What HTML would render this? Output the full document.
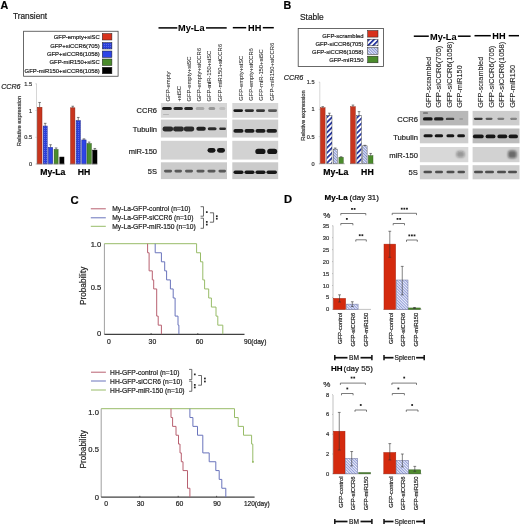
<!DOCTYPE html>
<html><head><meta charset="utf-8"><title>Figure</title>
<style>
html,body{margin:0;padding:0;background:#fff;width:520px;height:527px;overflow:hidden;}
svg{display:block;filter:blur(0.3px);font-family:"Liberation Sans", sans-serif;}
text{font-family:"Liberation Sans", sans-serif;}
</style></head>
<body><svg width="520" height="527" viewBox="0 0 520 527">
<rect width="520" height="527" fill="#fff"/>
<defs>
<pattern id="dots" width="2" height="2" patternUnits="userSpaceOnUse"><rect width="2" height="2" fill="#2a3fd8"/><rect x="0" y="0" width="1" height="1" fill="#5a6ae8"/></pattern>
<pattern id="hatchB" width="3.6" height="3.6" patternUnits="userSpaceOnUse" patternTransform="rotate(45)"><rect width="3.6" height="3.6" fill="#ffffff"/><rect width="1.7" height="3.6" fill="#1f2f9c"/></pattern>
<pattern id="hatchL" width="2" height="2" patternUnits="userSpaceOnUse" patternTransform="rotate(-45)"><rect width="2" height="2" fill="#e6e9f8"/><rect width="0.8" height="2" fill="#6f80c8"/></pattern>
<pattern id="hatchD" width="2.0" height="2.0" patternUnits="userSpaceOnUse" patternTransform="rotate(-45)"><rect width="2.0" height="2.0" fill="#eef0fb"/><rect width="0.75" height="2.0" fill="#7080cc"/></pattern>
<filter id="b1" x="-50%" y="-100%" width="200%" height="300%"><feGaussianBlur stdDeviation="0.6"/></filter>
<filter id="b3" x="-60%" y="-60%" width="220%" height="220%"><feGaussianBlur stdDeviation="1.1"/></filter>
<filter id="b2" x="-50%" y="-100%" width="200%" height="300%"><feGaussianBlur stdDeviation="0.75"/></filter>
</defs>
<text x="0.5" y="9" font-size="10.7" text-anchor="start" font-weight="bold" fill="#000" stroke="#000" stroke-width="0.2">A</text>
<text x="12.9" y="19.0" font-size="8.3" text-anchor="start" fill="#222" stroke="#222" stroke-width="0.2">Transient</text>
<rect x="23.60" y="31.25" width="94.50" height="45.00" fill="none" stroke="#444" stroke-width="0.8"/>
<text x="99.75" y="36.75" font-size="5.9" text-anchor="end" fill="#222" stroke="#222" stroke-width="0.2" dominant-baseline="central">GFP-empty+siSC</text>
<rect x="102.25" y="33.50" width="9.65" height="6.50" fill="#d8321c" stroke="#222" stroke-width="0.5"/>
<text x="99.75" y="45.75" font-size="5.9" text-anchor="end" fill="#222" stroke="#222" stroke-width="0.2" dominant-baseline="central">GFP+siCCR6(705)</text>
<rect x="102.25" y="42.50" width="9.65" height="6.50" fill="url(#dots)" stroke="#222" stroke-width="0.5"/>
<text x="99.75" y="54.25" font-size="5.9" text-anchor="end" fill="#222" stroke="#222" stroke-width="0.2" dominant-baseline="central">GFP+siCCR6(1058)</text>
<rect x="102.25" y="51.00" width="9.65" height="6.50" fill="#2e44e6" stroke="#222" stroke-width="0.5"/>
<text x="99.75" y="62.25" font-size="5.9" text-anchor="end" fill="#222" stroke="#222" stroke-width="0.2" dominant-baseline="central">GFP-miR150+siSC</text>
<rect x="102.25" y="59.00" width="9.65" height="6.50" fill="#4b8c2c" stroke="#222" stroke-width="0.5"/>
<text x="99.75" y="70.5" font-size="5.9" text-anchor="end" fill="#222" stroke="#222" stroke-width="0.2" dominant-baseline="central">GFP-miR150+siCCR6(1058)</text>
<rect x="102.25" y="67.25" width="9.65" height="6.50" fill="#000" stroke="#222" stroke-width="0.5"/>
<text x="1.2" y="89.0" font-size="7.1" text-anchor="start" font-style="italic" fill="#222" stroke="#222" stroke-width="0.2">CCR6</text>
<line x1="36.50" y1="83.75" x2="36.50" y2="164.00" stroke="#bbb" stroke-width="0.6"/>
<text x="32" y="83.75" font-size="5.6" text-anchor="end" fill="#333" stroke="#333" stroke-width="0.2" dominant-baseline="central">1.5</text>
<line x1="35.50" y1="83.75" x2="36.50" y2="83.75" stroke="#999" stroke-width="0.5"/>
<text x="32" y="110.5" font-size="5.6" text-anchor="end" fill="#333" stroke="#333" stroke-width="0.2" dominant-baseline="central">1</text>
<line x1="35.50" y1="110.50" x2="36.50" y2="110.50" stroke="#999" stroke-width="0.5"/>
<text x="32" y="137.25" font-size="5.6" text-anchor="end" fill="#333" stroke="#333" stroke-width="0.2" dominant-baseline="central">0.5</text>
<line x1="35.50" y1="137.25" x2="36.50" y2="137.25" stroke="#999" stroke-width="0.5"/>
<text x="32" y="164.0" font-size="5.6" text-anchor="end" fill="#333" stroke="#333" stroke-width="0.2" dominant-baseline="central">0</text>
<line x1="35.50" y1="164.00" x2="36.50" y2="164.00" stroke="#999" stroke-width="0.5"/>
<text x="18.8" y="121" font-size="5.8" text-anchor="middle" fill="#333" stroke="#333" stroke-width="0.2" transform="rotate(-90 18.8 121)" dominant-baseline="central">Relative expression</text>
<rect x="37.30" y="107.29" width="4.70" height="56.71" fill="#c8351e" stroke="#8a2010" stroke-width="0.5"/>
<line x1="39.65" y1="107.29" x2="39.65" y2="102.47" stroke="#333" stroke-width="0.6"/>
<line x1="38.35" y1="102.47" x2="40.95" y2="102.47" stroke="#333" stroke-width="0.6"/>
<rect x="43.20" y="126.02" width="4.00" height="37.98" fill="url(#dots)" stroke="#1a2590" stroke-width="0.5"/>
<line x1="45.20" y1="126.02" x2="45.20" y2="123.34" stroke="#333" stroke-width="0.6"/>
<line x1="43.90" y1="123.34" x2="46.50" y2="123.34" stroke="#333" stroke-width="0.6"/>
<rect x="48.40" y="147.41" width="4.30" height="16.59" fill="#2e44e6" stroke="#1a2590" stroke-width="0.5"/>
<line x1="50.55" y1="147.41" x2="50.55" y2="144.74" stroke="#333" stroke-width="0.6"/>
<line x1="49.25" y1="144.74" x2="51.85" y2="144.74" stroke="#333" stroke-width="0.6"/>
<rect x="54.10" y="149.56" width="4.00" height="14.44" fill="#4b8c2c" stroke="#2a5518" stroke-width="0.5"/>
<line x1="56.10" y1="149.56" x2="56.10" y2="147.95" stroke="#333" stroke-width="0.6"/>
<line x1="54.80" y1="147.95" x2="57.40" y2="147.95" stroke="#333" stroke-width="0.6"/>
<rect x="59.80" y="157.04" width="4.20" height="6.96" fill="#000" stroke="#000" stroke-width="0.5"/>
<rect x="70.60" y="107.82" width="4.30" height="56.18" fill="#c8351e" stroke="#8a2010" stroke-width="0.5"/>
<line x1="72.75" y1="107.82" x2="72.75" y2="106.22" stroke="#333" stroke-width="0.6"/>
<line x1="71.45" y1="106.22" x2="74.05" y2="106.22" stroke="#333" stroke-width="0.6"/>
<rect x="76.10" y="120.66" width="4.30" height="43.34" fill="url(#dots)" stroke="#1a2590" stroke-width="0.5"/>
<line x1="78.25" y1="120.66" x2="78.25" y2="117.45" stroke="#333" stroke-width="0.6"/>
<line x1="76.95" y1="117.45" x2="79.55" y2="117.45" stroke="#333" stroke-width="0.6"/>
<rect x="81.80" y="139.93" width="4.30" height="24.07" fill="#2e44e6" stroke="#1a2590" stroke-width="0.5"/>
<line x1="83.95" y1="139.93" x2="83.95" y2="138.85" stroke="#333" stroke-width="0.6"/>
<line x1="82.65" y1="138.85" x2="85.25" y2="138.85" stroke="#333" stroke-width="0.6"/>
<rect x="87.00" y="143.67" width="4.30" height="20.33" fill="#4b8c2c" stroke="#2a5518" stroke-width="0.5"/>
<line x1="89.15" y1="143.67" x2="89.15" y2="142.06" stroke="#333" stroke-width="0.6"/>
<line x1="87.85" y1="142.06" x2="90.45" y2="142.06" stroke="#333" stroke-width="0.6"/>
<rect x="92.70" y="150.09" width="4.30" height="13.91" fill="#000" stroke="#000" stroke-width="0.5"/>
<line x1="94.85" y1="150.09" x2="94.85" y2="148.48" stroke="#333" stroke-width="0.6"/>
<line x1="93.55" y1="148.48" x2="96.15" y2="148.48" stroke="#333" stroke-width="0.6"/>
<line x1="36.00" y1="164.00" x2="65.00" y2="164.00" stroke="#999" stroke-width="0.6"/>
<line x1="69.70" y1="164.00" x2="97.40" y2="164.00" stroke="#999" stroke-width="0.6"/>
<text x="52.8" y="174.6" font-size="8.7" text-anchor="middle" font-weight="bold" fill="#000" stroke="#000" stroke-width="0.2">My-La</text>
<text x="84" y="174.6" font-size="8.7" text-anchor="middle" font-weight="bold" fill="#000" stroke="#000" stroke-width="0.2">HH</text>
<line x1="158.50" y1="27.90" x2="177.30" y2="27.90" stroke="#000" stroke-width="1.5"/>
<line x1="206.00" y1="27.90" x2="226.70" y2="27.90" stroke="#000" stroke-width="1.5"/>
<text x="191.3" y="31.2" font-size="9.2" text-anchor="middle" font-weight="bold" fill="#000" stroke="#000" stroke-width="0.05">My-La</text>
<line x1="232.80" y1="27.70" x2="246.20" y2="27.70" stroke="#000" stroke-width="1.5"/>
<line x1="262.80" y1="27.70" x2="273.80" y2="27.70" stroke="#000" stroke-width="1.5"/>
<text x="254.7" y="31.0" font-size="9.2" text-anchor="middle" font-weight="bold" fill="#000" stroke="#000" stroke-width="0.05">HH</text>
<text x="170.29999999999998" y="101.5" font-size="6.1" text-anchor="start" fill="#222" stroke="#222" stroke-width="0.05" transform="rotate(-90 170.29999999999998 101.5)" textLength="30" lengthAdjust="spacingAndGlyphs">GFP-empty</text>
<text x="180.6" y="101.5" font-size="6.1" text-anchor="start" fill="#222" stroke="#222" stroke-width="0.05" transform="rotate(-90 180.6 101.5)" textLength="15.5" lengthAdjust="spacingAndGlyphs">+siSC</text>
<text x="190.6" y="101.5" font-size="6.1" text-anchor="start" fill="#222" stroke="#222" stroke-width="0.05" transform="rotate(-90 190.6 101.5)" textLength="45" lengthAdjust="spacingAndGlyphs">GFP-empty+siSC</text>
<text x="201.29999999999998" y="101.5" font-size="6.1" text-anchor="start" fill="#222" stroke="#222" stroke-width="0.05" transform="rotate(-90 201.29999999999998 101.5)" textLength="53.6" lengthAdjust="spacingAndGlyphs">GFP-empty+siCCR6</text>
<text x="211.29999999999998" y="101.5" font-size="6.1" text-anchor="start" fill="#222" stroke="#222" stroke-width="0.05" transform="rotate(-90 211.29999999999998 101.5)" textLength="50.7" lengthAdjust="spacingAndGlyphs">GFP-miR-150+siSC</text>
<text x="222.1" y="101.5" font-size="6.1" text-anchor="start" fill="#222" stroke="#222" stroke-width="0.05" transform="rotate(-90 222.1 101.5)" textLength="57.5" lengthAdjust="spacingAndGlyphs">GFP-miR150+siCCR6</text>
<text x="242.6" y="100.8" font-size="6.1" text-anchor="start" fill="#222" stroke="#222" stroke-width="0.05" transform="rotate(-90 242.6 100.8)" textLength="45" lengthAdjust="spacingAndGlyphs">GFP-empty+siSC</text>
<text x="253.29999999999998" y="100.8" font-size="6.1" text-anchor="start" fill="#222" stroke="#222" stroke-width="0.05" transform="rotate(-90 253.29999999999998 100.8)" textLength="52.6" lengthAdjust="spacingAndGlyphs">GFP-empty+siCCR6</text>
<text x="263.1" y="100.8" font-size="6.1" text-anchor="start" fill="#222" stroke="#222" stroke-width="0.05" transform="rotate(-90 263.1 100.8)" textLength="51.6" lengthAdjust="spacingAndGlyphs">GFP-miR-150+siSC</text>
<text x="274.1" y="100.8" font-size="6.1" text-anchor="start" fill="#222" stroke="#222" stroke-width="0.05" transform="rotate(-90 274.1 100.8)" textLength="58.2" lengthAdjust="spacingAndGlyphs">GFP-miR150+siCCR6</text>
<rect x="160.90" y="103.00" width="66.10" height="14.80" fill="#d7d7d7"/>
<rect x="232.30" y="103.00" width="45.90" height="14.80" fill="#d7d7d7"/>
<rect x="160.90" y="119.60" width="66.10" height="17.90" fill="#cecece"/>
<rect x="232.30" y="119.60" width="45.90" height="17.90" fill="#cecece"/>
<rect x="160.90" y="140.80" width="66.10" height="18.80" fill="#d2d2d2"/>
<rect x="232.30" y="140.80" width="45.90" height="18.80" fill="#d2d2d2"/>
<rect x="160.90" y="162.30" width="66.10" height="16.80" fill="#cbcbcb"/>
<rect x="232.30" y="162.30" width="45.90" height="16.80" fill="#cbcbcb"/>
<rect x="162.00" y="107.00" width="9.80" height="3.00" rx="1.50" fill="#111" fill-opacity="0.92" filter="url(#b1)"/>
<rect x="173.50" y="107.00" width="9.40" height="3.00" rx="1.50" fill="#111" fill-opacity="0.88" filter="url(#b1)"/>
<rect x="184.20" y="107.00" width="8.80" height="3.00" rx="1.50" fill="#111" fill-opacity="0.88" filter="url(#b1)"/>
<rect x="195.70" y="107.00" width="8.70" height="3.00" rx="1.50" fill="#111" fill-opacity="0.22" filter="url(#b1)"/>
<rect x="208.50" y="107.00" width="6.70" height="3.00" rx="1.50" fill="#111" fill-opacity="0.3" filter="url(#b1)"/>
<rect x="219.20" y="107.00" width="6.10" height="3.00" rx="1.50" fill="#111" fill-opacity="0.12" filter="url(#b1)"/>
<rect x="163.00" y="114.00" width="6.00" height="1.00" rx="0.50" fill="#111" fill-opacity="0.15" filter="url(#b1)"/>
<rect x="233.40" y="109.30" width="9.60" height="2.60" rx="1.30" fill="#111" fill-opacity="0.95" filter="url(#b1)"/>
<rect x="244.80" y="109.30" width="9.10" height="2.60" rx="1.30" fill="#111" fill-opacity="0.85" filter="url(#b1)"/>
<rect x="256.00" y="109.30" width="9.00" height="2.60" rx="1.30" fill="#111" fill-opacity="0.8" filter="url(#b1)"/>
<rect x="268.00" y="109.30" width="9.00" height="2.60" rx="1.30" fill="#111" fill-opacity="0.65" filter="url(#b1)"/>
<rect x="162.50" y="126.60" width="10.70" height="4.80" rx="2.40" fill="#111" fill-opacity="0.85" filter="url(#b1)"/>
<rect x="173.00" y="126.60" width="10.90" height="4.80" rx="2.40" fill="#111" fill-opacity="0.85" filter="url(#b1)"/>
<rect x="183.70" y="126.60" width="10.60" height="4.80" rx="2.40" fill="#111" fill-opacity="0.85" filter="url(#b1)"/>
<rect x="196.30" y="126.80" width="9.50" height="4.00" rx="2.00" fill="#111" fill-opacity="0.9" filter="url(#b1)"/>
<rect x="207.80" y="127.30" width="8.70" height="3.00" rx="1.50" fill="#111" fill-opacity="0.85" filter="url(#b1)"/>
<rect x="219.20" y="127.60" width="6.80" height="2.40" rx="1.20" fill="#111" fill-opacity="0.85" filter="url(#b1)"/>
<rect x="233.40" y="129.10" width="10.10" height="3.60" rx="1.80" fill="#111" fill-opacity="0.92" filter="url(#b1)"/>
<rect x="244.50" y="129.10" width="10.00" height="3.60" rx="1.80" fill="#111" fill-opacity="0.92" filter="url(#b1)"/>
<rect x="255.50" y="129.10" width="10.00" height="3.60" rx="1.80" fill="#111" fill-opacity="0.92" filter="url(#b1)"/>
<rect x="266.50" y="129.10" width="10.50" height="3.60" rx="1.80" fill="#111" fill-opacity="0.92" filter="url(#b1)"/>
<rect x="207.50" y="147.90" width="8.00" height="4.80" rx="2.40" fill="#111" fill-opacity="0.95" filter="url(#b2)"/>
<rect x="217.00" y="147.90" width="8.00" height="4.80" rx="2.40" fill="#111" fill-opacity="0.95" filter="url(#b2)"/>
<rect x="255.30" y="148.70" width="10.20" height="5.40" rx="2.70" fill="#111" fill-opacity="0.95" filter="url(#b2)"/>
<rect x="267.20" y="148.70" width="10.00" height="5.40" rx="2.70" fill="#111" fill-opacity="0.95" filter="url(#b2)"/>
<rect x="164.00" y="169.80" width="8.10" height="2.60" rx="1.30" fill="#111" fill-opacity="0.62" filter="url(#b1)"/>
<rect x="174.50" y="169.80" width="7.50" height="2.60" rx="1.30" fill="#111" fill-opacity="0.62" filter="url(#b1)"/>
<rect x="185.00" y="169.80" width="8.00" height="2.60" rx="1.30" fill="#111" fill-opacity="0.62" filter="url(#b1)"/>
<rect x="196.50" y="169.80" width="8.00" height="2.60" rx="1.30" fill="#111" fill-opacity="0.62" filter="url(#b1)"/>
<rect x="207.50" y="169.80" width="8.00" height="2.60" rx="1.30" fill="#111" fill-opacity="0.62" filter="url(#b1)"/>
<rect x="218.50" y="169.80" width="7.50" height="2.60" rx="1.30" fill="#111" fill-opacity="0.62" filter="url(#b1)"/>
<rect x="233.50" y="170.40" width="10.00" height="3.60" rx="1.80" fill="#111" fill-opacity="0.95" filter="url(#b1)"/>
<rect x="244.50" y="170.40" width="10.00" height="3.60" rx="1.80" fill="#111" fill-opacity="0.95" filter="url(#b1)"/>
<rect x="255.50" y="170.40" width="10.00" height="3.60" rx="1.80" fill="#111" fill-opacity="0.95" filter="url(#b1)"/>
<rect x="266.50" y="170.40" width="10.50" height="3.60" rx="1.80" fill="#111" fill-opacity="0.95" filter="url(#b1)"/>
<text x="157" y="110.6" font-size="7.5" text-anchor="end" fill="#222" stroke="#222" stroke-width="0.2" dominant-baseline="central">CCR6</text>
<text x="157" y="129.8" font-size="7.5" text-anchor="end" fill="#222" stroke="#222" stroke-width="0.2" dominant-baseline="central">Tubulin</text>
<text x="157" y="151.6" font-size="7.5" text-anchor="end" fill="#222" stroke="#222" stroke-width="0.2" dominant-baseline="central">miR-150</text>
<text x="157" y="171" font-size="7.5" text-anchor="end" fill="#222" stroke="#222" stroke-width="0.2" dominant-baseline="central">5S</text>
<text x="283.5" y="9" font-size="10.7" text-anchor="start" font-weight="bold" fill="#000" stroke="#000" stroke-width="0.2">B</text>
<text x="300" y="19.7" font-size="8.4" text-anchor="start" fill="#222" stroke="#222" stroke-width="0.2">Stable</text>
<rect x="298.20" y="28.50" width="85.30" height="38.00" fill="none" stroke="#444" stroke-width="0.8"/>
<text x="363.5" y="35.6" font-size="5.9" text-anchor="end" fill="#222" stroke="#222" stroke-width="0.2" dominant-baseline="central">GFP-scrambled</text>
<rect x="367.70" y="30.50" width="10.30" height="6.60" fill="#d8321c" stroke="#222" stroke-width="0.5"/>
<text x="363.5" y="43.6" font-size="5.9" text-anchor="end" fill="#222" stroke="#222" stroke-width="0.2" dominant-baseline="central">GFP-siCCR6(705)</text>
<rect x="367.70" y="39.20" width="10.30" height="6.60" fill="url(#hatchB)" stroke="#222" stroke-width="0.5"/>
<text x="363.5" y="52.1" font-size="5.9" text-anchor="end" fill="#222" stroke="#222" stroke-width="0.2" dominant-baseline="central">GFP-siCCR6(1058)</text>
<rect x="367.70" y="47.70" width="10.30" height="6.60" fill="url(#hatchL)" stroke="#222" stroke-width="0.5"/>
<text x="363.5" y="59.8" font-size="5.9" text-anchor="end" fill="#222" stroke="#222" stroke-width="0.2" dominant-baseline="central">GFP-miR150</text>
<rect x="367.70" y="56.20" width="10.30" height="6.60" fill="#4b8c2c" stroke="#222" stroke-width="0.5"/>
<text x="283.8" y="80.0" font-size="7.2" text-anchor="start" font-style="italic" fill="#222" stroke="#222" stroke-width="0.2">CCR6</text>
<line x1="319.80" y1="82.20" x2="319.80" y2="163.80" stroke="#bbb" stroke-width="0.6"/>
<text x="314.5" y="82.20000000000002" font-size="5.6" text-anchor="end" fill="#333" stroke="#333" stroke-width="0.2" dominant-baseline="central">1.5</text>
<line x1="318.80" y1="82.20" x2="319.80" y2="82.20" stroke="#999" stroke-width="0.5"/>
<text x="314.5" y="109.4" font-size="5.6" text-anchor="end" fill="#333" stroke="#333" stroke-width="0.2" dominant-baseline="central">1</text>
<line x1="318.80" y1="109.40" x2="319.80" y2="109.40" stroke="#999" stroke-width="0.5"/>
<text x="314.5" y="136.60000000000002" font-size="5.6" text-anchor="end" fill="#333" stroke="#333" stroke-width="0.2" dominant-baseline="central">0.5</text>
<line x1="318.80" y1="136.60" x2="319.80" y2="136.60" stroke="#999" stroke-width="0.5"/>
<text x="314.5" y="163.8" font-size="5.6" text-anchor="end" fill="#333" stroke="#333" stroke-width="0.2" dominant-baseline="central">0</text>
<line x1="318.80" y1="163.80" x2="319.80" y2="163.80" stroke="#999" stroke-width="0.5"/>
<text x="302.5" y="115.5" font-size="5.8" text-anchor="middle" fill="#333" stroke="#333" stroke-width="0.2" transform="rotate(-90 302.5 115.5)" dominant-baseline="central">Relative expression</text>
<rect x="320.40" y="107.77" width="4.70" height="56.03" fill="#c8351e" stroke="#8a2010" stroke-width="0.4"/>
<line x1="322.75" y1="107.77" x2="322.75" y2="106.68" stroke="#333" stroke-width="0.6"/>
<line x1="321.45" y1="106.68" x2="324.05" y2="106.68" stroke="#333" stroke-width="0.6"/>
<rect x="326.80" y="115.38" width="5.20" height="48.42" fill="url(#hatchB)" stroke="#333" stroke-width="0.4"/>
<line x1="329.40" y1="115.38" x2="329.40" y2="113.21" stroke="#333" stroke-width="0.6"/>
<line x1="328.10" y1="113.21" x2="330.70" y2="113.21" stroke="#333" stroke-width="0.6"/>
<rect x="333.20" y="149.11" width="4.00" height="14.69" fill="url(#hatchL)" stroke="#333" stroke-width="0.4"/>
<line x1="335.20" y1="149.11" x2="335.20" y2="148.02" stroke="#333" stroke-width="0.6"/>
<line x1="333.90" y1="148.02" x2="336.50" y2="148.02" stroke="#333" stroke-width="0.6"/>
<rect x="338.90" y="157.27" width="4.40" height="6.53" fill="#4b8c2c" stroke="#2a5518" stroke-width="0.4"/>
<line x1="341.10" y1="157.27" x2="341.10" y2="156.73" stroke="#333" stroke-width="0.6"/>
<line x1="339.80" y1="156.73" x2="342.40" y2="156.73" stroke="#333" stroke-width="0.6"/>
<rect x="350.50" y="106.68" width="4.90" height="57.12" fill="#c8351e" stroke="#8a2010" stroke-width="0.4"/>
<line x1="352.95" y1="106.68" x2="352.95" y2="105.05" stroke="#333" stroke-width="0.6"/>
<line x1="351.65" y1="105.05" x2="354.25" y2="105.05" stroke="#333" stroke-width="0.6"/>
<rect x="356.70" y="115.38" width="4.70" height="48.42" fill="url(#hatchB)" stroke="#333" stroke-width="0.4"/>
<line x1="359.05" y1="115.38" x2="359.05" y2="111.58" stroke="#333" stroke-width="0.6"/>
<line x1="357.75" y1="111.58" x2="360.35" y2="111.58" stroke="#333" stroke-width="0.6"/>
<rect x="362.60" y="145.85" width="4.50" height="17.95" fill="url(#hatchL)" stroke="#333" stroke-width="0.4"/>
<line x1="364.85" y1="145.85" x2="364.85" y2="145.30" stroke="#333" stroke-width="0.6"/>
<line x1="363.55" y1="145.30" x2="366.15" y2="145.30" stroke="#333" stroke-width="0.6"/>
<rect x="368.30" y="155.64" width="4.70" height="8.16" fill="#4b8c2c" stroke="#2a5518" stroke-width="0.4"/>
<line x1="370.65" y1="155.64" x2="370.65" y2="153.46" stroke="#333" stroke-width="0.6"/>
<line x1="369.35" y1="153.46" x2="371.95" y2="153.46" stroke="#333" stroke-width="0.6"/>
<line x1="319.00" y1="163.80" x2="345.00" y2="163.80" stroke="#999" stroke-width="0.6"/>
<line x1="350.00" y1="163.80" x2="374.40" y2="163.80" stroke="#999" stroke-width="0.6"/>
<text x="335.9" y="175.3" font-size="8.7" text-anchor="middle" font-weight="bold" fill="#000" stroke="#000" stroke-width="0.2">My-La</text>
<text x="367.4" y="175.3" font-size="8.7" text-anchor="middle" font-weight="bold" fill="#000" stroke="#000" stroke-width="0.2">HH</text>
<line x1="413.80" y1="36.20" x2="428.80" y2="36.20" stroke="#000" stroke-width="1.5"/>
<line x1="457.90" y1="36.20" x2="470.60" y2="36.20" stroke="#000" stroke-width="1.5"/>
<text x="443.3" y="39.5" font-size="9.2" text-anchor="middle" font-weight="bold" fill="#000" stroke="#000" stroke-width="0.05">My-La</text>
<line x1="474.50" y1="35.70" x2="490.80" y2="35.70" stroke="#000" stroke-width="1.5"/>
<line x1="508.70" y1="35.70" x2="519.00" y2="35.70" stroke="#000" stroke-width="1.5"/>
<text x="498.9" y="39.0" font-size="9.2" text-anchor="middle" font-weight="bold" fill="#000" stroke="#000" stroke-width="0.05">HH</text>
<text x="431.0" y="107.7" font-size="7.9" text-anchor="start" fill="#222" stroke="#222" stroke-width="0.1" transform="rotate(-90 431.0 107.7)" textLength="50.9" lengthAdjust="spacingAndGlyphs">GFP-scrambled</text>
<text x="441.4" y="107.7" font-size="7.9" text-anchor="start" fill="#222" stroke="#222" stroke-width="0.1" transform="rotate(-90 441.4 107.7)" textLength="62.1" lengthAdjust="spacingAndGlyphs">GFP-siCCR6(705)</text>
<text x="451.7" y="107.7" font-size="7.9" text-anchor="start" fill="#222" stroke="#222" stroke-width="0.1" transform="rotate(-90 451.7 107.7)" textLength="66.3" lengthAdjust="spacingAndGlyphs">GFP-siCCR6(1058)</text>
<text x="462.2" y="107.7" font-size="7.9" text-anchor="start" fill="#222" stroke="#222" stroke-width="0.1" transform="rotate(-90 462.2 107.7)" textLength="42.4" lengthAdjust="spacingAndGlyphs">GFP-miR150</text>
<text x="482.7" y="107.7" font-size="7.9" text-anchor="start" fill="#222" stroke="#222" stroke-width="0.1" transform="rotate(-90 482.7 107.7)" textLength="50.9" lengthAdjust="spacingAndGlyphs">GFP-scrambled</text>
<text x="493.79999999999995" y="107.7" font-size="7.9" text-anchor="start" fill="#222" stroke="#222" stroke-width="0.1" transform="rotate(-90 493.79999999999995 107.7)" textLength="62.1" lengthAdjust="spacingAndGlyphs">GFP-siCCR6(705)</text>
<text x="504.0" y="107.7" font-size="7.9" text-anchor="start" fill="#222" stroke="#222" stroke-width="0.1" transform="rotate(-90 504.0 107.7)" textLength="66.0" lengthAdjust="spacingAndGlyphs">GFP-siCCR6(1058)</text>
<text x="514.7" y="107.7" font-size="7.9" text-anchor="start" fill="#222" stroke="#222" stroke-width="0.1" transform="rotate(-90 514.7 107.7)" textLength="42.8" lengthAdjust="spacingAndGlyphs">GFP-miR150</text>
<rect x="419.90" y="110.90" width="48.40" height="14.50" fill="#b8b8b8"/>
<rect x="472.60" y="110.90" width="46.90" height="14.50" fill="#cdcdcd"/>
<rect x="419.90" y="128.50" width="48.40" height="14.80" fill="#cdcdcd"/>
<rect x="472.60" y="128.50" width="46.90" height="14.80" fill="#bcbcbc"/>
<rect x="419.90" y="147.00" width="48.40" height="15.20" fill="#d8d8d8"/>
<rect x="472.60" y="147.00" width="46.90" height="15.20" fill="#d2d2d2"/>
<rect x="419.90" y="165.20" width="48.40" height="14.10" fill="#cdcdcd"/>
<rect x="472.60" y="165.20" width="46.90" height="14.10" fill="#cdcdcd"/>
<rect x="422.90" y="117.20" width="9.80" height="3.40" rx="1.70" fill="#111" fill-opacity="0.95" filter="url(#b1)"/>
<rect x="434.00" y="117.30" width="9.50" height="3.20" rx="1.60" fill="#111" fill-opacity="0.9" filter="url(#b1)"/>
<rect x="445.80" y="117.70" width="8.50" height="2.40" rx="1.20" fill="#111" fill-opacity="0.7" filter="url(#b1)"/>
<rect x="459.20" y="117.90" width="3.90" height="2.00" rx="1.00" fill="#111" fill-opacity="0.15" filter="url(#b1)"/>
<rect x="423.00" y="112.40" width="5.00" height="1.20" rx="0.60" fill="#111" fill-opacity="0.6" filter="url(#b1)"/>
<rect x="473.90" y="117.70" width="8.80" height="2.20" rx="1.10" fill="#111" fill-opacity="0.78" filter="url(#b1)"/>
<rect x="485.60" y="117.70" width="6.90" height="2.20" rx="1.10" fill="#111" fill-opacity="0.62" filter="url(#b1)"/>
<rect x="497.40" y="117.70" width="6.90" height="2.20" rx="1.10" fill="#111" fill-opacity="0.45" filter="url(#b1)"/>
<rect x="510.20" y="117.70" width="6.80" height="2.20" rx="1.10" fill="#111" fill-opacity="0.4" filter="url(#b1)"/>
<rect x="423.50" y="134.30" width="9.20" height="3.00" rx="1.50" fill="#111" fill-opacity="0.95" filter="url(#b1)"/>
<rect x="434.70" y="134.30" width="8.40" height="3.00" rx="1.50" fill="#111" fill-opacity="0.95" filter="url(#b1)"/>
<rect x="446.40" y="134.30" width="7.90" height="3.00" rx="1.50" fill="#111" fill-opacity="0.95" filter="url(#b1)"/>
<rect x="457.20" y="134.30" width="7.80" height="3.00" rx="1.50" fill="#111" fill-opacity="0.95" filter="url(#b1)"/>
<rect x="472.90" y="134.50" width="10.80" height="3.80" rx="1.90" fill="#111" fill-opacity="0.95" filter="url(#b1)"/>
<rect x="485.60" y="134.50" width="9.90" height="3.80" rx="1.90" fill="#111" fill-opacity="0.95" filter="url(#b1)"/>
<rect x="497.40" y="134.50" width="9.80" height="3.80" rx="1.90" fill="#111" fill-opacity="0.95" filter="url(#b1)"/>
<rect x="508.60" y="134.50" width="9.40" height="3.80" rx="1.90" fill="#111" fill-opacity="0.95" filter="url(#b1)"/>
<rect x="456.4" y="151.0" width="8.2" height="6.6" rx="2.5" fill="#111" fill-opacity="0.34" filter="url(#b3)"/>
<rect x="508.0" y="150.6" width="8.6" height="7.6" rx="2.5" fill="#111" fill-opacity="0.55" filter="url(#b3)"/>
<rect x="423.50" y="170.70" width="8.50" height="2.60" rx="1.30" fill="#111" fill-opacity="0.68" filter="url(#b1)"/>
<rect x="435.00" y="170.70" width="8.00" height="2.60" rx="1.30" fill="#111" fill-opacity="0.68" filter="url(#b1)"/>
<rect x="446.50" y="170.70" width="8.00" height="2.60" rx="1.30" fill="#111" fill-opacity="0.68" filter="url(#b1)"/>
<rect x="457.50" y="170.70" width="7.50" height="2.60" rx="1.30" fill="#111" fill-opacity="0.68" filter="url(#b1)"/>
<rect x="474.00" y="170.70" width="9.00" height="2.60" rx="1.30" fill="#111" fill-opacity="0.68" filter="url(#b1)"/>
<rect x="485.00" y="170.70" width="9.00" height="2.60" rx="1.30" fill="#111" fill-opacity="0.68" filter="url(#b1)"/>
<rect x="497.00" y="170.70" width="9.00" height="2.60" rx="1.30" fill="#111" fill-opacity="0.68" filter="url(#b1)"/>
<rect x="508.00" y="170.70" width="9.00" height="2.60" rx="1.30" fill="#111" fill-opacity="0.68" filter="url(#b1)"/>
<text x="417.9" y="119.7" font-size="7.6" text-anchor="end" fill="#222" stroke="#222" stroke-width="0.2" dominant-baseline="central">CCR6</text>
<text x="417.9" y="137" font-size="7.6" text-anchor="end" fill="#222" stroke="#222" stroke-width="0.2" dominant-baseline="central">Tubulin</text>
<text x="417.9" y="155" font-size="7.6" text-anchor="end" fill="#222" stroke="#222" stroke-width="0.2" dominant-baseline="central">miR-150</text>
<text x="417.9" y="172.3" font-size="7.6" text-anchor="end" fill="#222" stroke="#222" stroke-width="0.2" dominant-baseline="central">5S</text>
<text x="70.6" y="203.6" font-size="11.3" text-anchor="start" font-weight="bold" fill="#000" stroke="#000" stroke-width="0.2">C</text>
<line x1="90.80" y1="208.80" x2="105.80" y2="208.80" stroke="#b86070" stroke-width="1.0"/>
<text x="112.3" y="208.8" font-size="6.7" text-anchor="start" fill="#222" stroke="#222" stroke-width="0.2" dominant-baseline="central">My-La-GFP-control (n=10)</text>
<line x1="90.80" y1="217.80" x2="105.80" y2="217.80" stroke="#6a74bc" stroke-width="1.0"/>
<text x="112.3" y="217.8" font-size="6.7" text-anchor="start" fill="#222" stroke="#222" stroke-width="0.2" dominant-baseline="central">My-La-GFP-siCCR6 (n=10)</text>
<line x1="90.80" y1="226.30" x2="105.80" y2="226.30" stroke="#98bc68" stroke-width="1.0"/>
<text x="112.3" y="226.3" font-size="6.7" text-anchor="start" fill="#222" stroke="#222" stroke-width="0.2" dominant-baseline="central">My-La-GFP-miR-150 (n=10)</text>
<path d="M200.60,206.70 H203.50 V216.20 H200.60" stroke="#444" stroke-width="0.8" fill="none"/>
<path d="M200.60,218.20 H203.50 V228.30 H200.60" stroke="#444" stroke-width="0.8" fill="none"/>
<path d="M209.90,212.80 H213.60 V222.20 H209.90" stroke="#444" stroke-width="0.8" fill="none"/>
<rect x="205.95" y="211.25" width="1.70" height="1.70" fill="#222"/>
<rect x="205.95" y="221.05" width="1.70" height="1.70" fill="#222"/>
<rect x="205.95" y="223.75" width="1.70" height="1.70" fill="#222"/>
<rect x="215.95" y="215.35" width="1.70" height="1.70" fill="#222"/>
<rect x="215.95" y="217.85" width="1.70" height="1.70" fill="#222"/>
<line x1="104.40" y1="243.70" x2="104.40" y2="334.20" stroke="#777" stroke-width="0.7"/>
<line x1="104.40" y1="334.30" x2="244.50" y2="334.30" stroke="#111" stroke-width="1.0"/>
<line x1="151.10" y1="334.30" x2="151.10" y2="333.00" stroke="#111" stroke-width="0.6"/>
<line x1="197.80" y1="334.30" x2="197.80" y2="333.00" stroke="#111" stroke-width="0.6"/>
<text x="101.2" y="244.6" font-size="7.6" text-anchor="end" fill="#222" stroke="#222" stroke-width="0.2" dominant-baseline="central">1.0</text>
<text x="101.2" y="287.2" font-size="7.6" text-anchor="end" fill="#222" stroke="#222" stroke-width="0.2" dominant-baseline="central">0.5</text>
<text x="101.2" y="333.0" font-size="7.6" text-anchor="end" fill="#222" stroke="#222" stroke-width="0.2" dominant-baseline="central">0</text>
<text x="83.2" y="285.8" font-size="8.2" text-anchor="middle" fill="#222" stroke="#222" stroke-width="0.2" transform="rotate(-90 83.2 285.8)" dominant-baseline="central">Probability</text>
<text x="108.8" y="341.6" font-size="6.8" text-anchor="middle" fill="#222" stroke="#222" stroke-width="0.2" dominant-baseline="central">0</text>
<text x="152.4" y="341.6" font-size="6.8" text-anchor="middle" fill="#222" stroke="#222" stroke-width="0.2" dominant-baseline="central">30</text>
<text x="199.6" y="341.6" font-size="6.8" text-anchor="middle" fill="#222" stroke="#222" stroke-width="0.2" dominant-baseline="central">60</text>
<text x="244" y="341.6" font-size="6.6" text-anchor="start" fill="#222" stroke="#222" stroke-width="0.2" dominant-baseline="central">90(day)</text>
<path d="M104.40,243.70 L196.60,243.70 L196.60,252.75 L200.50,252.75 L200.50,261.80 L202.80,261.80 L202.80,279.90 L204.60,279.90 L204.60,288.95 L208.70,288.95 L208.70,298.00 L211.40,298.00 L211.40,307.05 L216.00,307.05 L216.00,316.10 L217.80,316.10 L217.80,325.15 L222.80,325.15 L222.80,334.20" stroke="#98bc68" stroke-width="1.0" fill="none"/>
<path d="M147.60,243.70 L147.60,243.70 L147.60,252.75 L149.10,252.75 L149.10,270.85 L152.30,270.85 L152.30,279.90 L153.70,279.90 L153.70,288.95 L156.70,288.95 L156.70,316.10 L158.20,316.10 L158.20,325.15 L161.40,325.15 L161.40,334.20" stroke="#b86070" stroke-width="1.0" fill="none"/>
<path d="M155.20,243.70 L155.20,243.70 L155.20,252.75 L161.40,252.75 L161.40,261.80 L164.70,261.80 L164.70,270.85 L166.60,270.85 L166.60,279.90 L170.40,279.90 L170.40,288.95 L173.20,288.95 L173.20,298.00 L175.10,298.00 L175.10,316.10 L178.00,316.10 L178.00,325.15 L178.90,325.15 L178.90,334.20" stroke="#6a74bc" stroke-width="1.0" fill="none"/>
<line x1="91.00" y1="372.20" x2="105.90" y2="372.20" stroke="#b86070" stroke-width="1.0"/>
<text x="110.1" y="372.2" font-size="6.7" text-anchor="start" fill="#222" stroke="#222" stroke-width="0.2" dominant-baseline="central">HH-GFP-control (n=10)</text>
<line x1="91.00" y1="381.00" x2="105.90" y2="381.00" stroke="#6a74bc" stroke-width="1.0"/>
<text x="110.1" y="381.0" font-size="6.7" text-anchor="start" fill="#222" stroke="#222" stroke-width="0.2" dominant-baseline="central">HH-GFP-siCCR6 (n=10)</text>
<line x1="91.00" y1="390.00" x2="105.90" y2="390.00" stroke="#98bc68" stroke-width="1.0"/>
<text x="110.1" y="390.0" font-size="6.7" text-anchor="start" fill="#222" stroke="#222" stroke-width="0.2" dominant-baseline="central">HH-GFP-miR-150 (n=10)</text>
<path d="M189.10,369.40 H191.80 V379.60 H189.10" stroke="#444" stroke-width="0.8" fill="none"/>
<path d="M189.10,381.20 H191.80 V391.30 H189.10" stroke="#444" stroke-width="0.8" fill="none"/>
<path d="M198.20,375.50 H201.50 V385.20 H198.20" stroke="#444" stroke-width="0.8" fill="none"/>
<rect x="193.95" y="373.55" width="1.70" height="1.70" fill="#222"/>
<rect x="193.95" y="384.05" width="1.70" height="1.70" fill="#222"/>
<rect x="193.95" y="386.55" width="1.70" height="1.70" fill="#222"/>
<rect x="204.05" y="377.65" width="1.70" height="1.70" fill="#222"/>
<rect x="204.05" y="380.65" width="1.70" height="1.70" fill="#222"/>
<line x1="101.20" y1="408.70" x2="101.20" y2="497.10" stroke="#777" stroke-width="0.7"/>
<line x1="101.20" y1="497.10" x2="254.60" y2="497.10" stroke="#111" stroke-width="1.0"/>
<line x1="139.80" y1="497.10" x2="139.80" y2="495.80" stroke="#111" stroke-width="0.6"/>
<line x1="178.20" y1="497.10" x2="178.20" y2="495.80" stroke="#111" stroke-width="0.6"/>
<line x1="216.60" y1="497.10" x2="216.60" y2="495.80" stroke="#111" stroke-width="0.6"/>
<text x="98.9" y="412.4" font-size="7.6" text-anchor="end" fill="#222" stroke="#222" stroke-width="0.2" dominant-baseline="central">1.0</text>
<text x="98.9" y="449.8" font-size="7.6" text-anchor="end" fill="#222" stroke="#222" stroke-width="0.2" dominant-baseline="central">0.5</text>
<text x="98.9" y="497.2" font-size="7.6" text-anchor="end" fill="#222" stroke="#222" stroke-width="0.2" dominant-baseline="central">0</text>
<text x="83.2" y="449.3" font-size="8.2" text-anchor="middle" fill="#222" stroke="#222" stroke-width="0.2" transform="rotate(-90 83.2 449.3)" dominant-baseline="central">Probability</text>
<text x="106.2" y="503.6" font-size="6.8" text-anchor="middle" fill="#222" stroke="#222" stroke-width="0.2" dominant-baseline="central">0</text>
<text x="140.6" y="503.6" font-size="6.8" text-anchor="middle" fill="#222" stroke="#222" stroke-width="0.2" dominant-baseline="central">30</text>
<text x="179.5" y="503.6" font-size="6.8" text-anchor="middle" fill="#222" stroke="#222" stroke-width="0.2" dominant-baseline="central">60</text>
<text x="217.0" y="503.6" font-size="6.8" text-anchor="middle" fill="#222" stroke="#222" stroke-width="0.2" dominant-baseline="central">90</text>
<text x="244" y="503.6" font-size="6.5" text-anchor="start" fill="#222" stroke="#222" stroke-width="0.2" dominant-baseline="central">120(day)</text>
<path d="M101.20,408.70 L234.50,408.70 L234.50,417.54 L238.20,417.54 L238.20,426.38 L243.50,426.38 L243.50,435.22 L251.60,435.22 L251.60,444.06 L252.80,444.06 L252.80,461.74" stroke="#98bc68" stroke-width="1.0" fill="none"/>
<rect x="252.00" y="460.94" width="1.80" height="1.80" fill="#98bc68"/>
<path d="M171.00,408.70 L171.00,408.70 L171.00,417.54 L172.60,417.54 L172.60,426.38 L176.00,426.38 L176.00,435.22 L178.50,435.22 L178.50,444.06 L180.00,444.06 L180.00,452.90 L181.30,452.90 L181.30,461.74 L183.00,461.74 L183.00,470.58 L187.50,470.58 L187.50,488.26 L189.90,488.26 L189.90,497.10" stroke="#b86070" stroke-width="1.0" fill="none"/>
<path d="M189.90,408.70 L189.90,408.70 L189.90,417.54 L192.90,417.54 L192.90,426.38 L197.50,426.38 L197.50,435.22 L202.80,435.22 L202.80,452.90 L209.20,452.90 L209.20,461.74 L215.80,461.74 L215.80,470.58 L219.20,470.58 L219.20,479.42 L221.80,479.42 L221.80,488.26 L225.80,488.26 L225.80,497.10" stroke="#6a74bc" stroke-width="1.0" fill="none"/>
<text x="284.0" y="202.8" font-size="11.2" text-anchor="start" font-weight="bold" fill="#000" stroke="#000" stroke-width="0.2">D</text>
<text x="324.6" y="200.3" font-size="8.0" text-anchor="start" font-weight="bold" fill="#000" stroke="#000" stroke-width="0.2">My-La</text>
<text x="349.6" y="200.3" font-size="8.0" text-anchor="start" fill="#111" stroke="#111" stroke-width="0.2">(day 31)</text>
<text x="323.3" y="215.0" font-size="8.0" text-anchor="start" fill="#222" stroke="#222" stroke-width="0.2" dominant-baseline="central">%</text>
<line x1="333.00" y1="225.60" x2="333.00" y2="309.40" stroke="#999" stroke-width="0.6"/>
<text x="329.3" y="225.74999999999997" font-size="5.8" text-anchor="end" fill="#333" stroke="#333" stroke-width="0.2" dominant-baseline="central">35</text>
<line x1="332.00" y1="225.75" x2="333.00" y2="225.75" stroke="#999" stroke-width="0.5"/>
<text x="329.3" y="237.7" font-size="5.8" text-anchor="end" fill="#333" stroke="#333" stroke-width="0.2" dominant-baseline="central">30</text>
<line x1="332.00" y1="237.70" x2="333.00" y2="237.70" stroke="#999" stroke-width="0.5"/>
<text x="329.3" y="249.64999999999998" font-size="5.8" text-anchor="end" fill="#333" stroke="#333" stroke-width="0.2" dominant-baseline="central">25</text>
<line x1="332.00" y1="249.65" x2="333.00" y2="249.65" stroke="#999" stroke-width="0.5"/>
<text x="329.3" y="261.59999999999997" font-size="5.8" text-anchor="end" fill="#333" stroke="#333" stroke-width="0.2" dominant-baseline="central">20</text>
<line x1="332.00" y1="261.60" x2="333.00" y2="261.60" stroke="#999" stroke-width="0.5"/>
<text x="329.3" y="273.54999999999995" font-size="5.8" text-anchor="end" fill="#333" stroke="#333" stroke-width="0.2" dominant-baseline="central">15</text>
<line x1="332.00" y1="273.55" x2="333.00" y2="273.55" stroke="#999" stroke-width="0.5"/>
<text x="329.3" y="285.5" font-size="5.8" text-anchor="end" fill="#333" stroke="#333" stroke-width="0.2" dominant-baseline="central">10</text>
<line x1="332.00" y1="285.50" x2="333.00" y2="285.50" stroke="#999" stroke-width="0.5"/>
<text x="329.3" y="297.45" font-size="5.8" text-anchor="end" fill="#333" stroke="#333" stroke-width="0.2" dominant-baseline="central">5</text>
<line x1="332.00" y1="297.45" x2="333.00" y2="297.45" stroke="#999" stroke-width="0.5"/>
<text x="329.3" y="309.4" font-size="5.8" text-anchor="end" fill="#333" stroke="#333" stroke-width="0.2" dominant-baseline="central">0</text>
<line x1="332.00" y1="309.40" x2="333.00" y2="309.40" stroke="#999" stroke-width="0.5"/>
<line x1="333.00" y1="309.40" x2="371.00" y2="309.40" stroke="#999" stroke-width="0.6"/>
<line x1="383.00" y1="309.40" x2="421.50" y2="309.40" stroke="#999" stroke-width="0.6"/>
<rect x="333.50" y="298.41" width="12.10" height="10.99" fill="#d42a0e" stroke="#a8200c" stroke-width="0.5"/>
<line x1="339.55" y1="301.99" x2="339.55" y2="294.82" stroke="#333" stroke-width="0.6"/>
<line x1="338.15" y1="294.82" x2="340.95" y2="294.82" stroke="#333" stroke-width="0.6"/>
<line x1="338.15" y1="301.99" x2="340.95" y2="301.99" stroke="#333" stroke-width="0.6"/>
<rect x="346.50" y="304.14" width="11.60" height="5.26" fill="url(#hatchD)" stroke="#6a6f9a" stroke-width="0.5"/>
<line x1="352.30" y1="306.53" x2="352.30" y2="301.75" stroke="#333" stroke-width="0.6"/>
<line x1="350.90" y1="301.75" x2="353.70" y2="301.75" stroke="#333" stroke-width="0.6"/>
<line x1="350.90" y1="306.53" x2="353.70" y2="306.53" stroke="#333" stroke-width="0.6"/>
<rect x="384.00" y="244.15" width="11.60" height="65.25" fill="#d42a0e" stroke="#a8200c" stroke-width="0.5"/>
<line x1="389.80" y1="257.30" x2="389.80" y2="231.25" stroke="#333" stroke-width="0.6"/>
<line x1="388.40" y1="231.25" x2="391.20" y2="231.25" stroke="#333" stroke-width="0.6"/>
<line x1="388.40" y1="257.30" x2="391.20" y2="257.30" stroke="#333" stroke-width="0.6"/>
<rect x="396.50" y="280.00" width="11.50" height="29.40" fill="url(#hatchD)" stroke="#6a6f9a" stroke-width="0.5"/>
<line x1="402.25" y1="294.82" x2="402.25" y2="266.38" stroke="#333" stroke-width="0.6"/>
<line x1="400.85" y1="266.38" x2="403.65" y2="266.38" stroke="#333" stroke-width="0.6"/>
<line x1="400.85" y1="294.82" x2="403.65" y2="294.82" stroke="#333" stroke-width="0.6"/>
<rect x="408.60" y="307.97" width="11.80" height="1.43" fill="#4f8a2e" stroke="#2f5a1c" stroke-width="0.5"/>
<line x1="414.50" y1="308.44" x2="414.50" y2="307.49" stroke="#333" stroke-width="0.6"/>
<line x1="413.10" y1="307.49" x2="415.90" y2="307.49" stroke="#333" stroke-width="0.6"/>
<line x1="413.10" y1="308.44" x2="415.90" y2="308.44" stroke="#333" stroke-width="0.6"/>
<path d="M340.80,215.30 V213.50 H365.80 V215.30" stroke="#444" stroke-width="0.7" fill="none"/>
<rect x="351.10" y="208.00" width="1.80" height="1.80" fill="#222"/>
<rect x="353.70" y="208.00" width="1.80" height="1.80" fill="#222"/>
<path d="M340.80,225.30 V223.50 H352.90 V225.30" stroke="#444" stroke-width="0.7" fill="none"/>
<rect x="345.95" y="218.00" width="1.80" height="1.80" fill="#222"/>
<path d="M355.80,241.60 V239.80 H366.30 V241.60" stroke="#444" stroke-width="0.7" fill="none"/>
<rect x="358.85" y="234.30" width="1.80" height="1.80" fill="#222"/>
<rect x="361.45" y="234.30" width="1.80" height="1.80" fill="#222"/>
<path d="M392.20,215.10 V213.30 H416.50 V215.10" stroke="#444" stroke-width="0.7" fill="none"/>
<rect x="400.85" y="207.80" width="1.80" height="1.80" fill="#222"/>
<rect x="403.45" y="207.80" width="1.80" height="1.80" fill="#222"/>
<rect x="406.05" y="207.80" width="1.80" height="1.80" fill="#222"/>
<path d="M393.20,225.30 V223.50 H404.50 V225.30" stroke="#444" stroke-width="0.7" fill="none"/>
<rect x="396.65" y="218.00" width="1.80" height="1.80" fill="#222"/>
<rect x="399.25" y="218.00" width="1.80" height="1.80" fill="#222"/>
<path d="M406.50,241.80 V240.00 H417.30 V241.80" stroke="#444" stroke-width="0.7" fill="none"/>
<rect x="408.40" y="234.50" width="1.80" height="1.80" fill="#222"/>
<rect x="411.00" y="234.50" width="1.80" height="1.80" fill="#222"/>
<rect x="413.60" y="234.50" width="1.80" height="1.80" fill="#222"/>
<text x="342.5" y="312.7" font-size="5.8" text-anchor="end" fill="#222" stroke="#222" stroke-width="0.2" transform="rotate(-90 342.5 312.7)">GFP-control</text>
<text x="354.9" y="312.7" font-size="5.8" text-anchor="end" fill="#222" stroke="#222" stroke-width="0.2" transform="rotate(-90 354.9 312.7)">GFP-siCCR6</text>
<text x="367.6" y="312.7" font-size="5.8" text-anchor="end" fill="#222" stroke="#222" stroke-width="0.2" transform="rotate(-90 367.6 312.7)">GFP-miR150</text>
<text x="392.9" y="312.7" font-size="5.8" text-anchor="end" fill="#222" stroke="#222" stroke-width="0.2" transform="rotate(-90 392.9 312.7)">GFP-control</text>
<text x="405.3" y="312.7" font-size="5.8" text-anchor="end" fill="#222" stroke="#222" stroke-width="0.2" transform="rotate(-90 405.3 312.7)">GFP-siCCR6</text>
<text x="418.3" y="312.7" font-size="5.8" text-anchor="end" fill="#222" stroke="#222" stroke-width="0.2" transform="rotate(-90 418.3 312.7)">GFP-miR150</text>
<line x1="334.80" y1="357.70" x2="347.50" y2="357.70" stroke="#111" stroke-width="1.7"/>
<line x1="360.50" y1="357.70" x2="371.90" y2="357.70" stroke="#111" stroke-width="1.7"/>
<line x1="334.80" y1="355.10" x2="334.80" y2="360.30" stroke="#111" stroke-width="1.5"/>
<line x1="371.90" y1="355.10" x2="371.90" y2="360.30" stroke="#111" stroke-width="1.5"/>
<text x="354.0" y="357.7" font-size="6.6" text-anchor="middle" fill="#222" stroke="#222" stroke-width="0.2" dominant-baseline="central">BM</text>
<line x1="384.00" y1="357.70" x2="393.50" y2="357.70" stroke="#111" stroke-width="1.7"/>
<line x1="416.10" y1="357.70" x2="424.20" y2="357.70" stroke="#111" stroke-width="1.7"/>
<line x1="384.00" y1="355.10" x2="384.00" y2="360.30" stroke="#111" stroke-width="1.5"/>
<line x1="424.20" y1="355.10" x2="424.20" y2="360.30" stroke="#111" stroke-width="1.5"/>
<text x="404.8" y="357.7" font-size="6.6" text-anchor="middle" fill="#222" stroke="#222" stroke-width="0.2" dominant-baseline="central">Spleen</text>
<text x="331.0" y="371.4" font-size="8.0" text-anchor="start" font-weight="bold" fill="#000" stroke="#000" stroke-width="0.2">HH</text>
<text x="343.5" y="371.4" font-size="8.0" text-anchor="start" fill="#111" stroke="#111" stroke-width="0.2">(day 55)</text>
<text x="323.3" y="384.4" font-size="8.0" text-anchor="start" fill="#222" stroke="#222" stroke-width="0.2" dominant-baseline="central">%</text>
<line x1="333.00" y1="395.00" x2="333.00" y2="473.80" stroke="#999" stroke-width="0.6"/>
<text x="329.3" y="394.6" font-size="5.8" text-anchor="end" fill="#333" stroke="#333" stroke-width="0.2" dominant-baseline="central">8</text>
<line x1="332.00" y1="394.60" x2="333.00" y2="394.60" stroke="#999" stroke-width="0.5"/>
<text x="329.3" y="414.4" font-size="5.8" text-anchor="end" fill="#333" stroke="#333" stroke-width="0.2" dominant-baseline="central">6</text>
<line x1="332.00" y1="414.40" x2="333.00" y2="414.40" stroke="#999" stroke-width="0.5"/>
<text x="329.3" y="434.2" font-size="5.8" text-anchor="end" fill="#333" stroke="#333" stroke-width="0.2" dominant-baseline="central">4</text>
<line x1="332.00" y1="434.20" x2="333.00" y2="434.20" stroke="#999" stroke-width="0.5"/>
<text x="329.3" y="454.0" font-size="5.8" text-anchor="end" fill="#333" stroke="#333" stroke-width="0.2" dominant-baseline="central">2</text>
<line x1="332.00" y1="454.00" x2="333.00" y2="454.00" stroke="#999" stroke-width="0.5"/>
<text x="329.3" y="473.8" font-size="5.8" text-anchor="end" fill="#333" stroke="#333" stroke-width="0.2" dominant-baseline="central">0</text>
<line x1="332.00" y1="473.80" x2="333.00" y2="473.80" stroke="#999" stroke-width="0.5"/>
<line x1="333.00" y1="473.80" x2="371.00" y2="473.80" stroke="#999" stroke-width="0.6"/>
<line x1="383.00" y1="473.80" x2="421.50" y2="473.80" stroke="#999" stroke-width="0.6"/>
<rect x="333.50" y="431.23" width="11.50" height="42.57" fill="#d42a0e" stroke="#a8200c" stroke-width="0.5"/>
<line x1="339.25" y1="450.04" x2="339.25" y2="412.42" stroke="#333" stroke-width="0.6"/>
<line x1="337.85" y1="412.42" x2="340.65" y2="412.42" stroke="#333" stroke-width="0.6"/>
<line x1="337.85" y1="450.04" x2="340.65" y2="450.04" stroke="#333" stroke-width="0.6"/>
<rect x="345.70" y="458.45" width="12.00" height="15.35" fill="url(#hatchD)" stroke="#6a6f9a" stroke-width="0.5"/>
<line x1="351.70" y1="465.88" x2="351.70" y2="451.53" stroke="#333" stroke-width="0.6"/>
<line x1="350.30" y1="451.53" x2="353.10" y2="451.53" stroke="#333" stroke-width="0.6"/>
<line x1="350.30" y1="465.88" x2="353.10" y2="465.88" stroke="#333" stroke-width="0.6"/>
<rect x="358.80" y="472.61" width="11.60" height="1.19" fill="#4f8a2e" stroke="#2f5a1c" stroke-width="0.5"/>
<rect x="383.80" y="452.51" width="12.00" height="21.29" fill="#d42a0e" stroke="#a8200c" stroke-width="0.5"/>
<line x1="389.80" y1="459.94" x2="389.80" y2="443.61" stroke="#333" stroke-width="0.6"/>
<line x1="388.40" y1="443.61" x2="391.20" y2="443.61" stroke="#333" stroke-width="0.6"/>
<line x1="388.40" y1="459.94" x2="391.20" y2="459.94" stroke="#333" stroke-width="0.6"/>
<rect x="396.20" y="460.44" width="12.30" height="13.37" fill="url(#hatchD)" stroke="#6a6f9a" stroke-width="0.5"/>
<line x1="402.35" y1="466.87" x2="402.35" y2="454.00" stroke="#333" stroke-width="0.6"/>
<line x1="400.95" y1="454.00" x2="403.75" y2="454.00" stroke="#333" stroke-width="0.6"/>
<line x1="400.95" y1="466.87" x2="403.75" y2="466.87" stroke="#333" stroke-width="0.6"/>
<rect x="408.90" y="469.84" width="11.80" height="3.96" fill="#4f8a2e" stroke="#2f5a1c" stroke-width="0.5"/>
<line x1="414.80" y1="471.32" x2="414.80" y2="466.38" stroke="#333" stroke-width="0.6"/>
<line x1="413.40" y1="466.38" x2="416.20" y2="466.38" stroke="#333" stroke-width="0.6"/>
<line x1="413.40" y1="471.32" x2="416.20" y2="471.32" stroke="#333" stroke-width="0.6"/>
<path d="M340.40,384.90 V383.10 H365.40 V384.90" stroke="#444" stroke-width="0.7" fill="none"/>
<rect x="350.70" y="376.70" width="1.80" height="1.80" fill="#222"/>
<rect x="353.30" y="376.70" width="1.80" height="1.80" fill="#222"/>
<path d="M341.50,395.30 V393.50 H353.10 V395.30" stroke="#444" stroke-width="0.7" fill="none"/>
<rect x="346.40" y="387.60" width="1.80" height="1.80" fill="#222"/>
<path d="M355.00,411.80 V410.00 H366.50 V411.80" stroke="#444" stroke-width="0.7" fill="none"/>
<rect x="359.85" y="404.10" width="1.80" height="1.80" fill="#222"/>
<path d="M391.90,384.90 V383.10 H416.50 V384.90" stroke="#444" stroke-width="0.7" fill="none"/>
<rect x="403.30" y="376.70" width="1.80" height="1.80" fill="#222"/>
<path d="M392.30,395.30 V393.50 H404.40 V395.30" stroke="#444" stroke-width="0.7" fill="none"/>
<rect x="397.45" y="387.60" width="1.80" height="1.80" fill="#222"/>
<path d="M406.30,411.80 V410.00 H418.00 V411.80" stroke="#444" stroke-width="0.7" fill="none"/>
<rect x="411.25" y="404.10" width="1.80" height="1.80" fill="#222"/>
<text x="342.5" y="476.5" font-size="5.8" text-anchor="end" fill="#222" stroke="#222" stroke-width="0.2" transform="rotate(-90 342.5 476.5)">GFP-control</text>
<text x="354.9" y="476.5" font-size="5.8" text-anchor="end" fill="#222" stroke="#222" stroke-width="0.2" transform="rotate(-90 354.9 476.5)">GFP-siCCR6</text>
<text x="367.6" y="476.5" font-size="5.8" text-anchor="end" fill="#222" stroke="#222" stroke-width="0.2" transform="rotate(-90 367.6 476.5)">GFP-miR150</text>
<text x="392.9" y="476.5" font-size="5.8" text-anchor="end" fill="#222" stroke="#222" stroke-width="0.2" transform="rotate(-90 392.9 476.5)">GFP-control</text>
<text x="405.3" y="476.5" font-size="5.8" text-anchor="end" fill="#222" stroke="#222" stroke-width="0.2" transform="rotate(-90 405.3 476.5)">GFP-siCCR6</text>
<text x="418.3" y="476.5" font-size="5.8" text-anchor="end" fill="#222" stroke="#222" stroke-width="0.2" transform="rotate(-90 418.3 476.5)">GFP-miR150</text>
<line x1="334.80" y1="521.50" x2="347.50" y2="521.50" stroke="#111" stroke-width="1.7"/>
<line x1="360.50" y1="521.50" x2="371.90" y2="521.50" stroke="#111" stroke-width="1.7"/>
<line x1="334.80" y1="518.90" x2="334.80" y2="524.10" stroke="#111" stroke-width="1.5"/>
<line x1="371.90" y1="518.90" x2="371.90" y2="524.10" stroke="#111" stroke-width="1.5"/>
<text x="354.0" y="521.5" font-size="6.6" text-anchor="middle" fill="#222" stroke="#222" stroke-width="0.2" dominant-baseline="central">BM</text>
<line x1="384.00" y1="521.50" x2="393.50" y2="521.50" stroke="#111" stroke-width="1.7"/>
<line x1="416.10" y1="521.50" x2="424.20" y2="521.50" stroke="#111" stroke-width="1.7"/>
<line x1="384.00" y1="518.90" x2="384.00" y2="524.10" stroke="#111" stroke-width="1.5"/>
<line x1="424.20" y1="518.90" x2="424.20" y2="524.10" stroke="#111" stroke-width="1.5"/>
<text x="404.8" y="521.5" font-size="6.6" text-anchor="middle" fill="#222" stroke="#222" stroke-width="0.2" dominant-baseline="central">Spleen</text>
</svg></body></html>
